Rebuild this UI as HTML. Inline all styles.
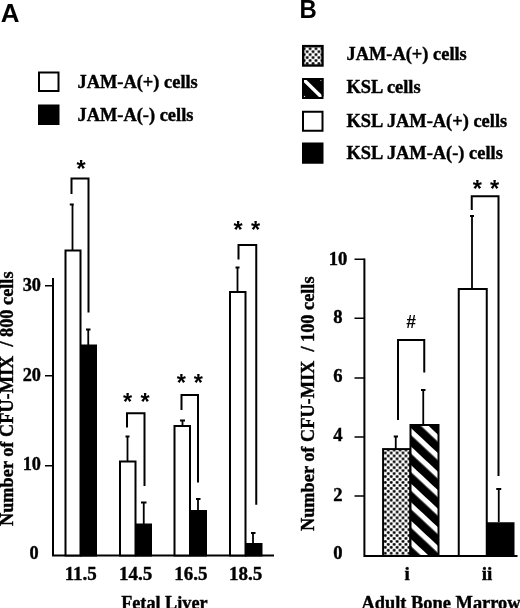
<!DOCTYPE html>
<html>
<head>
<meta charset="utf-8">
<title>Figure</title>
<style>
html,body{margin:0;padding:0;background:#fff;}
svg{display:block;will-change:transform;}
.s{font-family:"Liberation Serif",serif;font-weight:bold;fill:#000;stroke:#000;stroke-width:0.4;}
.h{font-family:"Liberation Sans",sans-serif;font-weight:bold;fill:#000;}
.t{stroke:#000;stroke-width:1.5;fill:none;}
.l{stroke:#000;stroke-width:2;fill:none;stroke-linecap:butt;}
.e{stroke:#000;stroke-width:1.8;fill:none;}
.w{fill:#fff;stroke:#000;stroke-width:2;}
.k{fill:#000;stroke:#000;stroke-width:2;}
</style>
</head>
<body>
<svg width="520" height="608" viewBox="0 0 520 608">
<defs>
<pattern id="dots" patternUnits="userSpaceOnUse" x="383.825" y="451.525" width="5.9" height="5.9">
<rect width="5.9" height="5.9" fill="#fff"/>
<circle cx="1.475" cy="1.475" r="1.45" fill="#000"/>
<circle cx="4.425" cy="4.425" r="1.45" fill="#000"/>
</pattern>
<pattern id="dotsL" patternUnits="userSpaceOnUse" x="305.675" y="44.375" width="5.9" height="5.9">
<rect width="5.9" height="5.9" fill="#fff"/>
<circle cx="1.475" cy="1.475" r="1.45" fill="#000"/>
<circle cx="4.425" cy="4.425" r="1.45" fill="#000"/>
</pattern>
<pattern id="hatch" patternUnits="userSpaceOnUse" width="13.55" height="13.55" patternTransform="translate(411.4 428.4) rotate(43)">
<rect width="13.55" height="13.55" fill="#000"/>
<rect x="0" y="0" width="13.55" height="5.2" fill="#fff"/>
</pattern>
</defs>
<rect width="520" height="608" fill="#fff"/>

<!-- ===== Panel A ===== -->
<text class="h" transform="translate(0.7 21.9) scale(1.03 1)" font-size="25.2">A</text>
<rect class="w" x="39" y="72.5" width="19.5" height="18.5"/>
<rect class="k" x="39" y="105.5" width="19.5" height="18.5"/>
<text class="s" x="77.5" y="88" font-size="18.4">JAM-A(+) cells</text>
<text class="s" x="77.5" y="120.7" font-size="18.4">JAM-A(-) cells</text>

<text class="s" transform="translate(12.7 526) rotate(-90)" font-size="18.3" xml:space="preserve">Number of CFU-MIX  / 800 cells</text>

<!-- axes -->
<path class="l" d="M53 278V555.5H274"/>
<path class="t" d="M45 285.75H53M45 375.75H53M45 465.75H53"/>
<text class="s" x="41" y="290.5" font-size="18.3" text-anchor="end">30</text>
<text class="s" x="41" y="380.5" font-size="18.3" text-anchor="end">20</text>
<text class="s" x="41" y="470" font-size="18.3" text-anchor="end">10</text>
<text class="s" x="38.6" y="559" font-size="18.3" text-anchor="end">0</text>

<!-- bars -->
<rect class="w" x="65.5" y="250.5" width="15" height="305"/>
<rect class="k" x="81" y="345.5" width="15" height="210"/>
<rect class="w" x="120" y="461.5" width="15.5" height="94"/>
<rect class="k" x="136" y="524.5" width="15" height="31"/>
<rect class="w" x="174.5" y="426" width="15.5" height="129.5"/>
<rect class="k" x="191.5" y="511" width="14.5" height="44.5"/>
<rect class="w" x="230" y="292" width="15.5" height="263.5"/>
<rect class="k" x="246" y="544" width="15.5" height="11.5"/>

<!-- error bars -->
<path class="e" d="M72.5 250V204M69.8 204.5H73.8"/>
<path class="e" d="M88.25 345V329M86 329.5H90.5"/>
<path class="e" d="M127.5 461V436M125.5 436.5H129.5"/>
<path class="e" d="M143.75 524V502M141 502.5H146.5"/>
<path class="e" d="M182.5 425V420M180 420.5H185"/>
<path class="e" d="M198 510V498.5M196 499H200.5"/>
<path class="e" d="M237.5 291V267M235.5 267.5H239.5"/>
<path class="e" d="M253 543V532.5M251 533H255.5"/>

<!-- brackets -->
<path class="l" d="M71.5 194V178.5H88.5V312.5"/>
<path class="l" d="M127 427.5V413.25H144.5V486"/>
<path class="l" d="M181.5 410V395H198V482.5"/>
<path class="l" d="M238.5 259.5V245H256.25V504.75"/>

<!-- asterisks -->
<text class="h" x="81" y="177.2" font-size="23.5" text-anchor="middle">*</text>
<text class="h" x="127.5" y="409.5" font-size="23.5" text-anchor="middle">*</text>
<text class="h" x="145" y="409.5" font-size="23.5" text-anchor="middle">*</text>
<text class="h" x="181.25" y="390.7" font-size="23.5" text-anchor="middle">*</text>
<text class="h" x="198.4" y="390.7" font-size="23.5" text-anchor="middle">*</text>
<text class="h" x="238" y="238.4" font-size="23.5" text-anchor="middle">*</text>
<text class="h" x="255.6" y="238.4" font-size="23.5" text-anchor="middle">*</text>

<!-- x labels -->
<text class="s" x="80.75" y="580" font-size="19" text-anchor="middle">11.5</text>
<text class="s" x="135.6" y="580" font-size="19" text-anchor="middle">14.5</text>
<text class="s" x="190.9" y="580" font-size="19" text-anchor="middle">16.5</text>
<text class="s" x="245.6" y="580" font-size="19" text-anchor="middle">18.5</text>
<text class="s" x="121.2" y="609.2" font-size="18.2">Fetal Liver</text>

<!-- ===== Panel B ===== -->
<text class="h" transform="translate(299.5 18) scale(0.95 1)" font-size="25.2">B</text>
<rect x="303.2" y="46.1" width="19.3" height="19.4" fill="url(#dotsL)" stroke="#000" stroke-width="2.4"/>
<g>
<rect class="k" x="303" y="79" width="19.5" height="19"/>
<path d="M302 78L324 99.5" stroke="#fff" stroke-width="3.5"/>
<path d="M320 80H321.5V81.5ZM304 95.5V97H305.5ZM321.5 95.8V97H320.3Z" fill="#fff"/>
<rect x="303" y="79" width="19.5" height="19" fill="none" stroke="#000" stroke-width="2"/>
</g>
<rect class="w" x="303" y="111.75" width="19.5" height="19"/>
<rect class="k" x="303" y="143.5" width="19.5" height="19.25"/>
<text class="s" x="346.5" y="60" font-size="18.4">JAM-A(+) cells</text>
<text class="s" x="346.5" y="93.3" font-size="18.4">KSL cells</text>
<text class="s" x="346.5" y="126.6" font-size="18.4">KSL JAM-A(+) cells</text>
<text class="s" x="346.5" y="159" font-size="18.4">KSL JAM-A(-) cells</text>

<text class="s" transform="translate(314.3 531) rotate(-90)" font-size="18.3" xml:space="preserve">Number of CFU-MIX  / 100 cells</text>

<!-- axes -->
<path class="l" d="M364.4 258.5V556H517.5"/>
<path class="t" d="M354.5 259.25H364.4"/>
<path class="t" d="M354.5 318.25H364.4M354.5 378H364.4M354.5 437H364.4M354.5 496H364.4"/>
<text class="s" x="338" y="264.5" font-size="18.6" text-anchor="middle">10</text>
<text class="s" x="338" y="322.5" font-size="18.6" text-anchor="middle">8</text>
<text class="s" x="338" y="382" font-size="18.6" text-anchor="middle">6</text>
<text class="s" x="338" y="441" font-size="18.6" text-anchor="middle">4</text>
<text class="s" x="338" y="500.5" font-size="18.6" text-anchor="middle">2</text>
<text class="s" x="338" y="559" font-size="18.6" text-anchor="middle">0</text>

<!-- bars -->
<rect x="383.1" y="449.1" width="27.2" height="106.9" fill="url(#dots)" stroke="#000" stroke-width="2"/>
<rect x="410.5" y="425" width="28" height="131" fill="url(#hatch)" stroke="#000" stroke-width="2"/>
<rect class="w" x="458.75" y="289" width="28" height="267"/>
<rect class="k" x="487.25" y="523.25" width="26.25" height="32.75"/>

<!-- error bars -->
<path class="e" d="M395.75 449V436M393.75 436.5H398"/>
<path class="e" d="M423.25 424V389.5M421 390H425.5"/>
<path class="e" d="M472 288V215.5M470 216H474"/>
<path class="e" d="M498.75 522V488.5M496.25 489H501.25"/>

<!-- brackets -->
<path class="l" d="M398 420V340H424.25V372.5"/>
<path class="l" d="M471.75 210V196.25H498.5V476"/>

<text x="410.9" y="328" font-size="17.5" text-anchor="middle" font-family="Liberation Sans, sans-serif" font-style="italic" font-weight="bold" fill="#000">#</text>
<text class="h" x="477.25" y="197.3" font-size="23.5" text-anchor="middle">*</text>
<text class="h" x="494.6" y="197.3" font-size="23.5" text-anchor="middle">*</text>

<text class="s" x="407.25" y="580" font-size="19" text-anchor="middle">i</text>
<text class="s" x="487" y="580" font-size="19" text-anchor="middle">ii</text>
<text class="s" x="361.5" y="609.1" font-size="18.4">Adult Bone Marrow</text>
</svg>
</body>
</html>
